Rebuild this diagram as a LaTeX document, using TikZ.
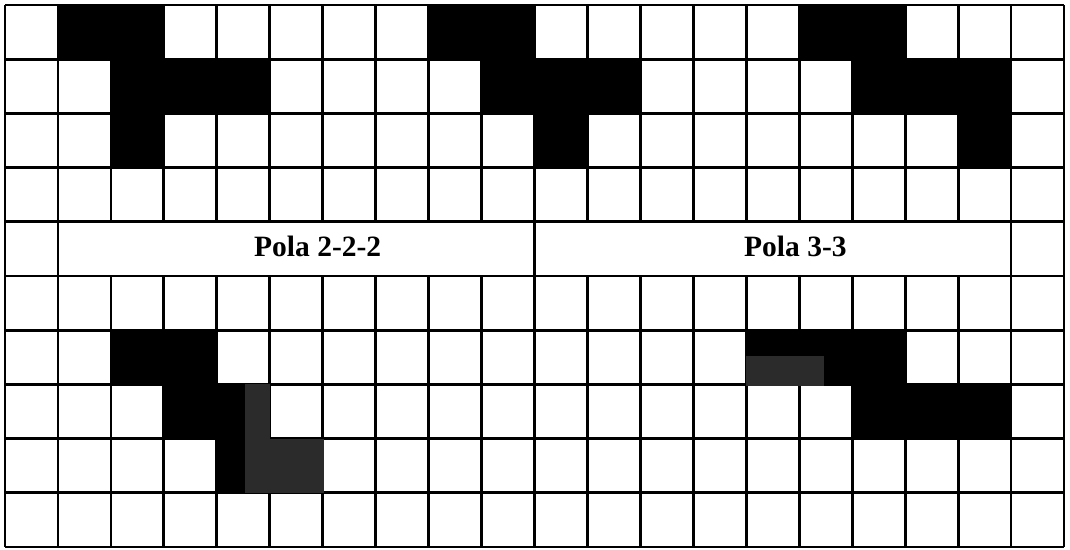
\documentclass[tikz,border=0pt]{standalone}
\usepackage{fontspec}
\setmainfont{Liberation Serif}
\begin{document}
\begin{tikzpicture}[x=1pt,y=-1pt,
  gridline/.style={line width=2.8pt,black},
  cell/.style={fill=black},
  shade/.style={fill=black!83},
  label/.style={font=\fontsize{29.5}{34}\selectfont\bfseries,inner sep=0pt,anchor=base west}]
\useasboundingbox[fill=white] (0,0) rectangle (1070,549);
% black cells (row, col)
\foreach \r/\c in {0/1,0/2,1/2,1/3,1/4,2/2, 0/8,0/9,1/9,1/10,1/11,2/10,
                   0/15,0/16,1/16,1/17,1/18,2/18,
                   6/2,6/3,7/3,7/4,8/4,8/5, 6/14,6/15,6/16,7/16,7/17,7/18}{
  \fill[cell] ({5+\c*52.95},{5+\r*54.2}) rectangle ({5+(\c+1)*52.95},{5+(\r+1)*54.2});
}
% horizontal lines
\foreach \j in {0,...,10}{
  \draw[gridline] (5,{5+\j*54.2}) -- (1064,{5+\j*54.2});
}
% vertical lines (rows 0-3 and 5-9)
\foreach \i in {0,...,20}{
  \draw[gridline] ({5+\i*52.95},5) -- ({5+\i*52.95},{5+4*54.2});
  \draw[gridline] ({5+\i*52.95},{5+5*54.2}) -- ({5+\i*52.95},547);
}
% vertical lines in the merged row
\foreach \i in {0,1,10,19,20}{
  \draw[gridline] ({5+\i*52.95},{5+4*54.2}) -- ({5+\i*52.95},{5+5*54.2});
}
% darker-grey patches seen over some black cells
\fill[shade] (245,384) rectangle (270,439);
\fill[shade] (245,439) rectangle (324,493);
\fill[shade] (746,356) rectangle (824,386);
% labels
\node[label] (pola222) at (254,256) {Pola 2-2-2};
\node[label] (pola33) at (744,256) {Pola 3-3};
\end{tikzpicture}
\end{document}
